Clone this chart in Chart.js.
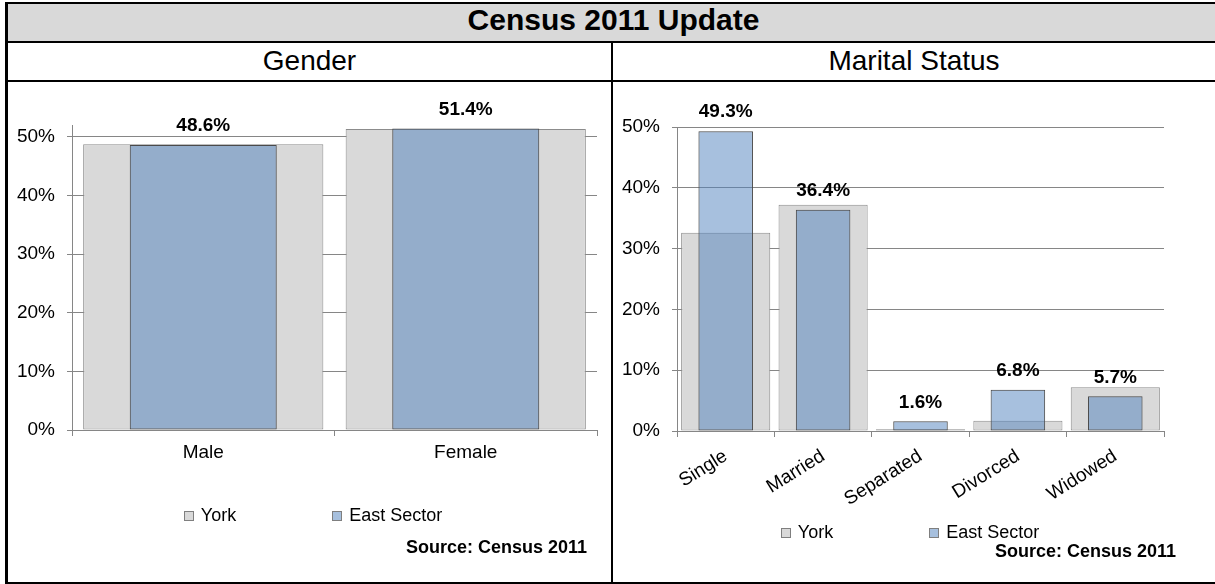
<!DOCTYPE html>
<html><head><meta charset="utf-8">
<script src="https://cdn.jsdelivr.net/npm/chart.js@4.4.1/dist/chart.umd.min.js"></script>
<style>
html,body{margin:0;padding:0;background:#fff;}
body{width:1215px;height:584px;position:relative;overflow:hidden;font-family:'Liberation Sans',Arial,sans-serif;color:#000;}
.ln{position:absolute;background:#000;}
.txt{position:absolute;text-align:center;white-space:nowrap;}
canvas{position:absolute;}
.src{position:absolute;font-weight:bold;font-size:18px;text-align:right;white-space:nowrap;line-height:20px;height:20px;width:300px;}
</style></head><body>
<div style="position:absolute;left:8px;top:4px;width:1210px;height:37px;background:#D9D9D9"></div>
<div class="txt" style="left:7px;top:4px;width:1213px;height:31px;line-height:31px;font-size:30px;font-weight:bold">Census 2011 Update</div>
<div class="txt" style="left:8px;top:43px;width:603px;height:35px;line-height:35px;font-size:28px">Gender</div>
<div class="txt" style="left:613px;top:43px;width:602px;height:35px;line-height:35px;font-size:28px">Marital Status</div>
<canvas id="cG" width="603" height="500" style="left:8px;top:82px"></canvas>
<canvas id="cM" width="602" height="500" style="left:613px;top:82px"></canvas>
<div class="src" style="left:287px;top:537px">Source: Census 2011</div>
<div class="src" style="left:876px;top:541px">Source: Census 2011</div>
<div class="ln" style="left:5px;top:2px;width:1215px;height:2px"></div>
<div class="ln" style="left:5px;top:2px;width:3px;height:582px"></div>
<div class="ln" style="left:5px;top:41px;width:1215px;height:2px"></div>
<div class="ln" style="left:5px;top:80px;width:1215px;height:2px"></div>
<div class="ln" style="left:611px;top:41px;width:2px;height:543px"></div>
<div class="ln" style="left:5px;top:582px;width:1215px;height:2px"></div>
<script>
// ---- data ----
const genderCategories = ['Male', 'Female'];
const genderYork = [48.7, 51.3];
const genderEast = [48.6, 51.4];
const maritalCategories = ['Single', 'Married', 'Separated', 'Divorced', 'Widowed'];
const maritalYork = [32.6, 37.2, 0.3, 1.7, 7.2];
const maritalEast = [49.3, 36.4, 1.6, 6.8, 5.7];
const seriesNames = ['York', 'East Sector'];
const yTickValues = [0, 10, 20, 30, 40, 50];

const FAMILY = "'Liberation Sans', Arial, sans-serif";
Chart.defaults.font.family = FAMILY;
Chart.defaults.color = '#000';

const valueLabels = {
  id: 'valueLabels',
  afterDatasetsDraw(chart, args, opts) {
    const idx = opts.datasetIndex;
    const meta = chart.getDatasetMeta(idx);
    const data = chart.data.datasets[idx].data;
    const ctx = chart.ctx;
    ctx.save();
    ctx.font = 'bold 19px ' + FAMILY;
    ctx.fillStyle = '#000';
    ctx.textAlign = 'center';
    ctx.textBaseline = 'middle';
    meta.data.forEach((bar, i) => {
      ctx.fillText(data[i].toFixed(1) + '%', bar.x, bar.y - opts.offset);
    });
    ctx.restore();
  }
};

const boxLegend = {
  id: 'boxLegend',
  afterDraw(chart, args, opts) {
    const ctx = chart.ctx;
    const items = chart.data.datasets.map(ds => ({text: ds.label, fill: ds.backgroundColor}));
    ctx.save();
    ctx.font = opts.fontSize + 'px ' + FAMILY;
    const widths = items.map(it => opts.box + opts.textGap + ctx.measureText(it.text).width);
    const total = widths.reduce((a, b) => a + b, 0) + opts.gap * (items.length - 1);
    let x = opts.cx - total / 2;
    ctx.textBaseline = 'middle';
    ctx.textAlign = 'left';
    items.forEach((it, i) => {
      const bx = Math.round(x) + 0.5, by = Math.round(opts.cy - opts.box / 2) + 0.5;
      ctx.fillStyle = '#fff';
      ctx.fillRect(bx, by, opts.box, opts.box);
      ctx.fillStyle = it.fill;
      ctx.fillRect(bx, by, opts.box, opts.box);
      ctx.strokeStyle = '#7F7F7F';
      ctx.lineWidth = 1;
      ctx.strokeRect(bx, by, opts.box, opts.box);
      ctx.fillStyle = '#000';
      ctx.fillText(it.text, x + opts.box + opts.textGap, opts.cy + 1);
      x += widths[i] + opts.gap;
    });
    ctx.restore();
  }
};

function makeChart(id, cats, york, east, cfg) {
  return new Chart(document.getElementById(id), {
    type: 'bar',
    data: {
      labels: cats,
      datasets: [
        {label: seriesNames[0], data: york, order: 1, grouped: false,
         backgroundColor: '#D9D9D9', borderColor: '#8C8C8C', borderWidth: 1, borderSkipped: false,
         categoryPercentage: 1, barPercentage: 0.915},
        {label: seriesNames[1], data: east, order: 0, grouped: false,
         backgroundColor: 'rgba(79,129,189,0.5)', borderColor: '#4A4A4A', borderWidth: 1, borderSkipped: false,
         categoryPercentage: 1, barPercentage: 0.56}
      ]
    },
    options: {
      responsive: false, animation: false, devicePixelRatio: 1,
      layout: {padding: {left: 0, right: cfg.padRight, top: cfg.padTop, bottom: cfg.padBottom}},
      plugins: {
        legend: {display: false}, tooltip: {enabled: false},
        valueLabels: {datasetIndex: 1, offset: 19},
        boxLegend: {cx: cfg.legendX, cy: cfg.legendY, box: 9, textGap: 8, gap: 96, fontSize: 18}
      },
      scales: {
        x: {
          grid: {display: true, drawOnChartArea: false, drawTicks: true, tickLength: 6, offset: true, color: '#868686'},
          border: {display: true, color: '#868686'},
          ticks: {font: {size: 19}, padding: cfg.xPad, minRotation: cfg.rot, maxRotation: cfg.rot, autoSkip: false, color: '#000'},
          afterFit: s => { s.height = cfg.xHeight; }
        },
        y: {
          min: 0, max: cfg.yMax,
          grid: {color: '#868686', lineWidth: 1, drawTicks: true, tickLength: 5},
          border: {display: true, color: '#868686'},
          ticks: {font: {size: 19}, padding: 12, color: '#000', callback: v => v + '%'},
          afterBuildTicks: s => { s.ticks = yTickValues.filter(v => v <= cfg.yMax).map(v => ({value: v})); },
          afterFit: s => { s.width = 64; }
        }
      }
    },
    plugins: [valueLabels, boxLegend]
  });
}

makeChart('cG', genderCategories, genderYork, genderEast,
  {padRight: 14, padTop: 43, padBottom: 112, xHeight: 40, xPad: 5, rot: 0, yMax: 52, legendX: 305, legendY: 433});
makeChart('cM', maritalCategories, maritalYork, maritalEast,
  {padRight: 51, padTop: 45, padBottom: 71, xHeight: 80, xPad: 8, rot: 32, yMax: 50, legendX: 297, legendY: 450});
</script>
</body></html>
